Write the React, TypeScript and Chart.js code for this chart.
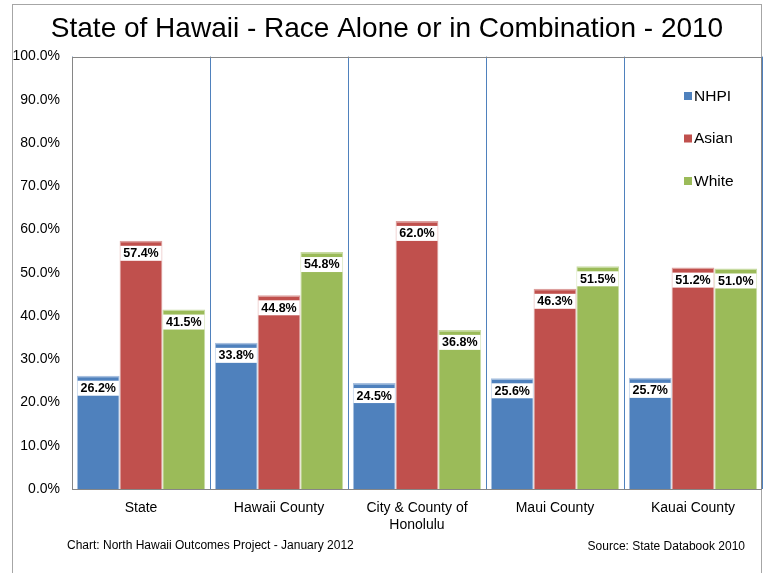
import React, { useEffect, useRef } from "react";
import { Chart, registerables } from "chart.js";

Chart.register(...registerables);

const categories: (string | string[])[] = [
  "State",
  "Hawaii County",
  ["City & County of", "Honolulu"],
  "Maui County",
  "Kauai County",
];
const seriesNames = ["NHPI", "Asian", "White"];
const nhpi = [26.2, 33.8, 24.5, 25.6, 25.7];
const asian = [57.4, 44.8, 62.0, 46.3, 51.2];
const white = [41.5, 54.8, 36.8, 51.5, 51.0];
const yTickValues = [0, 10, 20, 30, 40, 50, 60, 70, 80, 90, 100];

const titleText = "State of Hawaii - Race Alone or in Combination - 2010";
const footerLeft = "Chart: North Hawaii Outcomes Project - January 2012";
const footerRight = "Source: State Databook 2010";

const FONT = "'Liberation Sans', Arial, Helvetica, sans-serif";
const fills = ["#4F81BD", "#C0504D", "#9BBB59"];
const edges = ["#A9C1E0", "#DDA09E", "#C8DBA3"];

const framePlugin = {
  id: "frame",
  beforeDraw(chart: any) {
    const ctx = chart.ctx;
    ctx.save();
    ctx.fillStyle = "#ffffff";
    ctx.fillRect(0, 0, chart.width, chart.height);
    ctx.strokeStyle = "#A6A6A6";
    ctx.lineWidth = 1;
    ctx.strokeRect(12.5, 4.5, 749, 700);
    ctx.restore();
  },
  afterDraw(chart: any) {
    const { ctx, chartArea } = chart;
    ctx.save();
    ctx.strokeStyle = "#868686";
    ctx.lineWidth = 1;
    ctx.strokeRect(
      Math.round(chartArea.left) + 0.5,
      Math.round(chartArea.top) + 0.5,
      Math.round(chartArea.right - chartArea.left) - 1,
      Math.round(chartArea.bottom - chartArea.top)
    );
    // footer texts
    ctx.fillStyle = "#000";
    ctx.font = `12px ${FONT}`;
    ctx.textBaseline = "middle";
    ctx.textAlign = "left";
    ctx.fillText(footerLeft, 67, 546);
    ctx.textAlign = "right";
    ctx.fillText(footerRight, 745, 547);
    // legend
    const items = chart.data.datasets;
    ctx.font = `15.5px ${FONT}`;
    ctx.textAlign = "left";
    items.forEach((ds: any, i: number) => {
      const cy = 96 + i * 42.5;
      ctx.fillStyle = ds.backgroundColor;
      ctx.fillRect(684, cy - 4, 8, 8);
      ctx.fillStyle = "#000";
      ctx.fillText(ds.label, 694, cy + 0.5);
    });
    ctx.restore();
  },
};

const labelPlugin = {
  id: "barLabels",
  afterDatasetsDraw(chart: any) {
    const ctx = chart.ctx;
    ctx.save();
    ctx.font = `bold 12.5px ${FONT}`;
    ctx.textAlign = "center";
    ctx.textBaseline = "middle";
    chart.data.datasets.forEach((ds: any, di: number) => {
      const meta = chart.getDatasetMeta(di);
      meta.data.forEach((bar: any, i: number) => {
        const txt = ds.data[i].toFixed(1) + "%";
        const tw = ctx.measureText(txt).width;
        const bw = tw + 6;
        const bh = 15;
        const top = bar.y + 5;
        ctx.fillStyle = "#ffffff";
        ctx.fillRect(bar.x - bw / 2, top, bw, bh);
        ctx.fillStyle = "#000";
        ctx.fillText(txt, bar.x, top + bh / 2 + 0.5);
      });
    });
    ctx.restore();
  },
};

export default function App() {
  const ref = useRef<HTMLCanvasElement | null>(null);
  useEffect(() => {
    if (!ref.current) return;
    const series = [nhpi, asian, white];
    const chart = new Chart(ref.current, {
      type: "bar",
      data: {
        labels: categories,
        datasets: series.map((d, i) => ({
          label: seriesNames[i],
          data: d,
          backgroundColor: fills[i],
          borderColor: edges[i],
          borderWidth: { top: 1.5, left: 1, right: 1, bottom: 0 },
          borderSkipped: "bottom",
          categoryPercentage: 0.93,
          barPercentage: 1.0,
        })),
      },
      options: {
        responsive: false,
        animation: false,
        layout: { padding: { left: 12, right: 2, top: 0, bottom: 0 } },
        plugins: {
          legend: { display: false },
          tooltip: { enabled: false },
          title: {
            display: true,
            text: titleText,
            color: "#000",
            font: { family: FONT, size: 28, weight: "normal" },
            padding: { top: 12, bottom: 11 },
          },
        },
        scales: {
          x: {
            grid: {
              display: true,
              offset: true,
              color: "#4F81BD",
              lineWidth: 1,
              drawTicks: false,
            },
            border: { display: false },
            ticks: {
              color: "#000",
              font: { family: FONT, size: 14 },
              maxRotation: 0,
              autoSkip: false,
              padding: 11,
            },
            afterFit(scale: any) {
              scale.height = 84;
            },
          },
          y: {
            min: 0,
            max: 100,
            grid: { display: false, drawTicks: false },
            border: { display: false },
            afterBuildTicks(scale: any) {
              scale.ticks = yTickValues.map((v) => ({ value: v }));
            },
            ticks: {
              color: "#000",
              font: { family: FONT, size: 14 },
              padding: 12,
              callback: (v: any) => Number(v).toFixed(1) + "%",
            },
            afterFit(scale: any) {
              scale.width = 60;
            },
          },
        },
      },
      plugins: [framePlugin, labelPlugin],
    });
    return () => chart.destroy();
  }, []);
  return (
    <div style={{ position: "absolute", left: 0, top: 0, width: 764, height: 573 }}>
      <canvas ref={ref} width={764} height={573} style={{ display: "block" }} />
    </div>
  );
}
